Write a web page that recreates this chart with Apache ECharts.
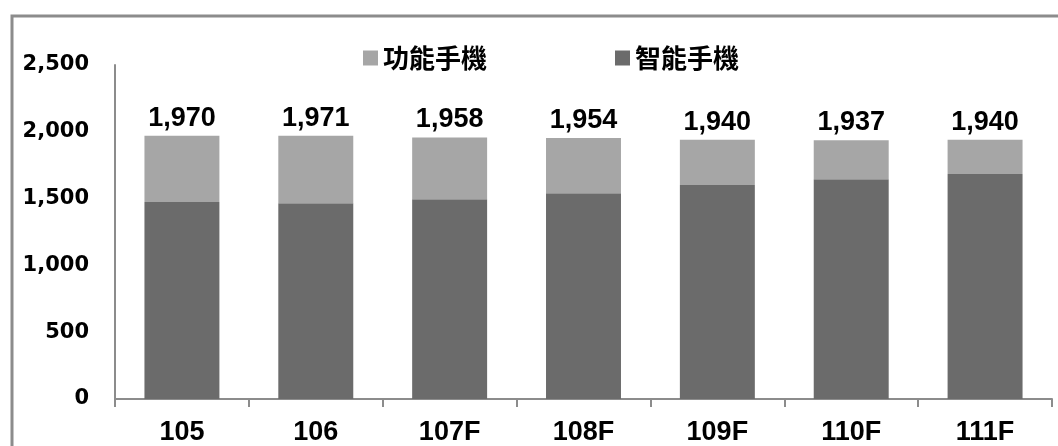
<!doctype html>
<html>
<head>
<meta charset="utf-8">
<title>手機出貨</title>
<script src="https://cdn.jsdelivr.net/npm/echarts@6/dist/echarts.min.js"></script>
<style>
  html, body { margin: 0; padding: 0; background: #fff; }
  #chart { width: 1058px; height: 446px; }
</style>
</head>
<body>
<div id="chart"></div>
<script>
// data
var years = ['105', '106', '107F', '108F', '109F', '110F', '111F'];
var totals = [1970, 1971, 1958, 1954, 1940, 1937, 1940];
var smart = [1475, 1465, 1495, 1540, 1602, 1644, 1684];
var feature = totals.map(function (t, i) { return t - smart[i]; });
var yTicks = [0, 500, 1000, 1500, 2000, 2500];

var chart = echarts.init(document.getElementById('chart'));

chart.setOption({
  animation: false,
  graphic: [{
    type: 'rect',
    shape: { x: 12, y: 16, width: 1070, height: 460 },
    style: { fill: 'none', stroke: '#8c8c8c', lineWidth: 3 },
    silent: true
  }],
  legend: {
    data: ['功能手機', '智能手機'],
    left: 358,
    top: 40,
    icon: 'rect',
    itemWidth: 15,
    itemHeight: 15,
    itemGap: 128,
    textStyle: {
      fontFamily: 'Noto Sans CJK TC',
      fontWeight: 'bold',
      fontSize: 26,
      color: '#000'
    }
  },
  grid: { left: 115, right: 6, top: 65, bottom: 47 },
  xAxis: {
    type: 'category',
    data: years,
    axisLine: { lineStyle: { color: '#8c8c8c', width: 2 } },
    axisTick: { show: true, length: 8, lineStyle: { color: '#8c8c8c', width: 2 } },
    axisLabel: {
      margin: 20,
      color: '#000',
      fontFamily: 'Liberation Sans',
      fontWeight: 'bold',
      fontSize: 27
    }
  },
  yAxis: {
    type: 'value',
    min: yTicks[0],
    max: yTicks[yTicks.length - 1],
    interval: 500,
    splitLine: { show: false },
    axisTick: { show: false },
    axisLine: { show: true, lineStyle: { color: '#8c8c8c', width: 2 } },
    axisLabel: {
      margin: 26,
      color: '#000',
      fontFamily: 'DejaVu Sans',
      fontWeight: 'bold',
      fontSize: 21,
      formatter: function (v) { return v.toLocaleString('en-US'); }
    }
  },
  series: [{
    name: '智能手機',
    type: 'bar',
    stack: 'total',
    barWidth: '56%',
    data: smart,
    itemStyle: { color: '#6b6b6b' }
  }, {
    name: '功能手機',
    type: 'bar',
    stack: 'total',
    barWidth: '56%',
    data: feature,
    itemStyle: { color: '#a6a6a6' },
    label: {
      show: true,
      position: 'top',
      distance: 4,
      color: '#000',
      fontFamily: 'Liberation Sans',
      fontWeight: 'bold',
      fontSize: 27,
      formatter: function (p) { return totals[p.dataIndex].toLocaleString('en-US'); }
    }
  }]
});
</script>
</body>
</html>
